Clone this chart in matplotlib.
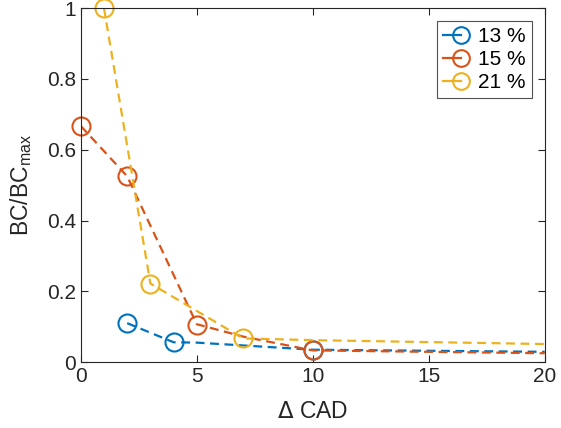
import numpy as np
import matplotlib.pyplot as plt
from matplotlib.lines import Line2D
from matplotlib.legend_handler import HandlerBase

plt.rcParams['font.family'] = ['Liberation Sans', 'DejaVu Sans']

labels = ['13 %', '15 %', '21 %']
colors = ['#0072BD', '#D95319', '#EDB120']

# dashed curves (full data)
line_x = [
    [2, 4, 5, 7, 10, 20],
    [0, 2, 5, 7, 10, 20],
    [1, 3, 7, 10, 20],
]
line_y = [
    [0.110, 0.056, 0.055, 0.047, 0.035, 0.029],
    [0.667, 0.525, 0.107, 0.072, 0.033, 0.025],
    [1.000, 0.222, 0.067, 0.062, 0.051],
]

# measured points (circles)
mark_x = [
    [2, 4, 10],
    [0, 2, 5, 10],
    [1, 3, 7],
]
mark_y = [
    [0.110, 0.056, 0.034],
    [0.667, 0.525, 0.105, 0.033],
    [1.000, 0.222, 0.067],
]


# legend entry: short solid line ending in a circle
class LineThenCircle(HandlerBase):
    def create_artists(self, legend, orig_handle, xdescent, ydescent, width, height,
                       fontsize, trans):
        y = (height - ydescent) / 2
        x0 = -xdescent
        xm = x0 + width * 0.85
        c = orig_handle.get_color()
        ln = Line2D([x0, xm], [y, y], color=c, lw=1.6, transform=trans)
        mk = Line2D([xm], [y], color=c, marker='o', mfc='none', ms=12, mew=1.5,
                    ls='none', transform=trans)
        return [ln, mk]


fig = plt.figure(figsize=(5.61, 4.28), dpi=100)
ax = fig.add_axes([0.144, 0.154, 0.827, 0.827])

handles = []
for i in range(3):
    ax.plot(line_x[i], line_y[i], '--', color=colors[i], lw=1.6, dashes=(4, 2.5))
    h, = ax.plot(mark_x[i], mark_y[i], 'o', color=colors[i], mfc='none', ms=13, mew=1.5,
                 clip_on=False)
    handles.append(h)

ax.set_xlim(0, 20)
ax.set_ylim(0, 1)
ax.set_xticks([0, 5, 10, 15, 20])
ax.set_yticks([0, 0.2, 0.4, 0.6, 0.8, 1])
ax.set_yticklabels(['0', '0.2', '0.4', '0.6', '0.8', '1'])
ax.tick_params(direction='in', top=True, right=True, labelsize=15, colors='#262626', length=5)
for s in ax.spines.values():
    s.set_color('#262626')
    s.set_linewidth(0.8)

ax.set_xlabel(r'$\Delta$ CAD', fontsize=16.5, color='#262626', labelpad=10)
ax.set_ylabel(r'BC/BC$_{\mathregular{max}}$', fontsize=16.5, color='#262626', labelpad=9)

leg = ax.legend(handles, labels, loc='upper right', fontsize=15, fancybox=False,
                edgecolor='#262626', handler_map={Line2D: LineThenCircle()},
                handlelength=1.0, borderaxespad=0.6, labelspacing=0.2,
                handletextpad=0.7, borderpad=0.3)
leg.get_frame().set_linewidth(0.8)

fig.savefig('out.png', dpi=100)
